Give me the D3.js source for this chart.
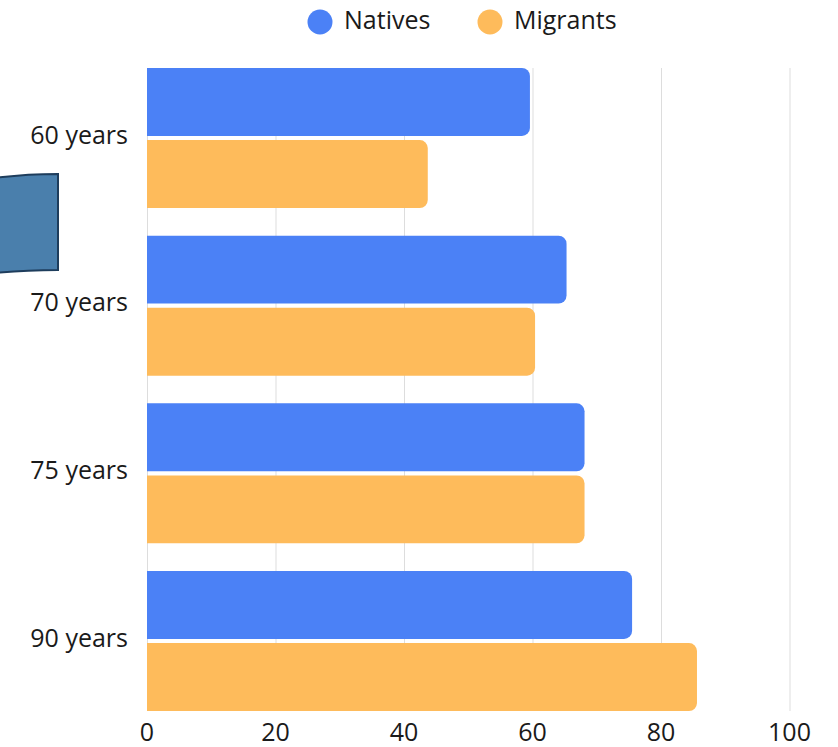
<!DOCTYPE html>
<html>
<head>
<meta charset="utf-8">
<script src="https://cdn.jsdelivr.net/npm/d3@7"></script>
<style>
  html, body { margin: 0; padding: 0; background: #ffffff; }
  svg { display: block; font-family: "Open Sans", "Noto Sans", sans-serif; }
</style>
</head>
<body>
<svg id="chart" width="838" height="747"></svg>
<script>
const categories = ["60 years", "70 years", "75 years", "90 years"];
const seriesNames = ["Natives", "Migrants"];
const nativesValues = [59.6, 65.3, 68.1, 75.5];
const migrantsValues = [43.7, 60.4, 68.1, 85.6];
const xTicks = [0, 20, 40, 60, 80, 100];
const colors = ["#4b81f6", "#febb5b"];

const svg = d3.select("#chart");
const plot = { left: 147, right: 789.5, top: 68, bottom: 711 };

const x = d3.scaleLinear().domain([0, 100]).range([plot.left, plot.right]);
const y = d3.scaleBand().domain(categories).range([plot.top, plot.bottom])
  .paddingInner(0.165).paddingOuter(0);
const yInner = d3.scaleBand().domain(seriesNames).range([0, y.bandwidth()])
  .paddingInner(0.058);
const color = d3.scaleOrdinal().domain(seriesNames).range(colors);

// decorative shape on the left
svg.append("path")
  .attr("d", "M -5 178 Q 25 174 58 174 L 58 270 Q 25 270 -5 273 Z")
  .attr("fill", "#4a7fac")
  .attr("stroke", "#1e3d5c")
  .attr("stroke-width", 2);

// gridlines
svg.append("g").selectAll("line").data(xTicks).join("line")
  .attr("x1", d => x(d) + 0.5).attr("x2", d => x(d) + 0.5)
  .attr("y1", plot.top).attr("y2", plot.bottom)
  .attr("stroke", "#dddddd").attr("stroke-width", 1);

const rows = categories.map((c, i) => ({
  cat: c,
  vals: [
    { s: "Natives", v: nativesValues[i] },
    { s: "Migrants", v: migrantsValues[i] }
  ]
}));

function barPath(x0, y0, w, h, r) {
  r = Math.min(r, w, h / 2);
  return `M${x0},${y0}H${x0 + w - r}A${r},${r} 0 0 1 ${x0 + w},${y0 + r}` +
         `V${y0 + h - r}A${r},${r} 0 0 1 ${x0 + w - r},${y0 + h}H${x0}Z`;
}

const groups = svg.append("g").selectAll("g").data(rows).join("g")
  .attr("transform", d => `translate(0,${y(d.cat)})`);
groups.selectAll("path").data(d => d.vals).join("path")
  .attr("d", d => barPath(x(0), yInner(d.s), x(d.v) - x(0), yInner.bandwidth(), 8))
  .attr("fill", d => color(d.s));

// y labels
svg.append("g").selectAll("text").data(categories).join("text")
  .attr("x", 128)
  .attr("y", d => y(d) + y.bandwidth() / 2 - 3)
  .attr("dy", "0.35em")
  .attr("text-anchor", "end")
  .attr("font-size", 25)
  .attr("fill", "#1a1a1a")
  .text(d => d);

// x labels
svg.append("g").selectAll("text").data(xTicks).join("text")
  .attr("x", d => x(d))
  .attr("y", 741)
  .attr("text-anchor", "middle")
  .attr("font-size", 25)
  .attr("fill", "#1a1a1a")
  .text(d => d);

// legend
const legendItems = [
  { s: "Natives", cx: 320 },
  { s: "Migrants", cx: 490 }
];
const lg = svg.append("g").selectAll("g").data(legendItems).join("g");
lg.append("circle")
  .attr("cx", d => d.cx).attr("cy", 22).attr("r", 12.5)
  .attr("fill", d => color(d.s));
lg.append("text")
  .attr("x", d => d.cx + 24).attr("y", 29)
  .attr("font-size", 25)
  .attr("fill", "#1a1a1a")
  .text(d => d.s);
</script>
</body>
</html>
